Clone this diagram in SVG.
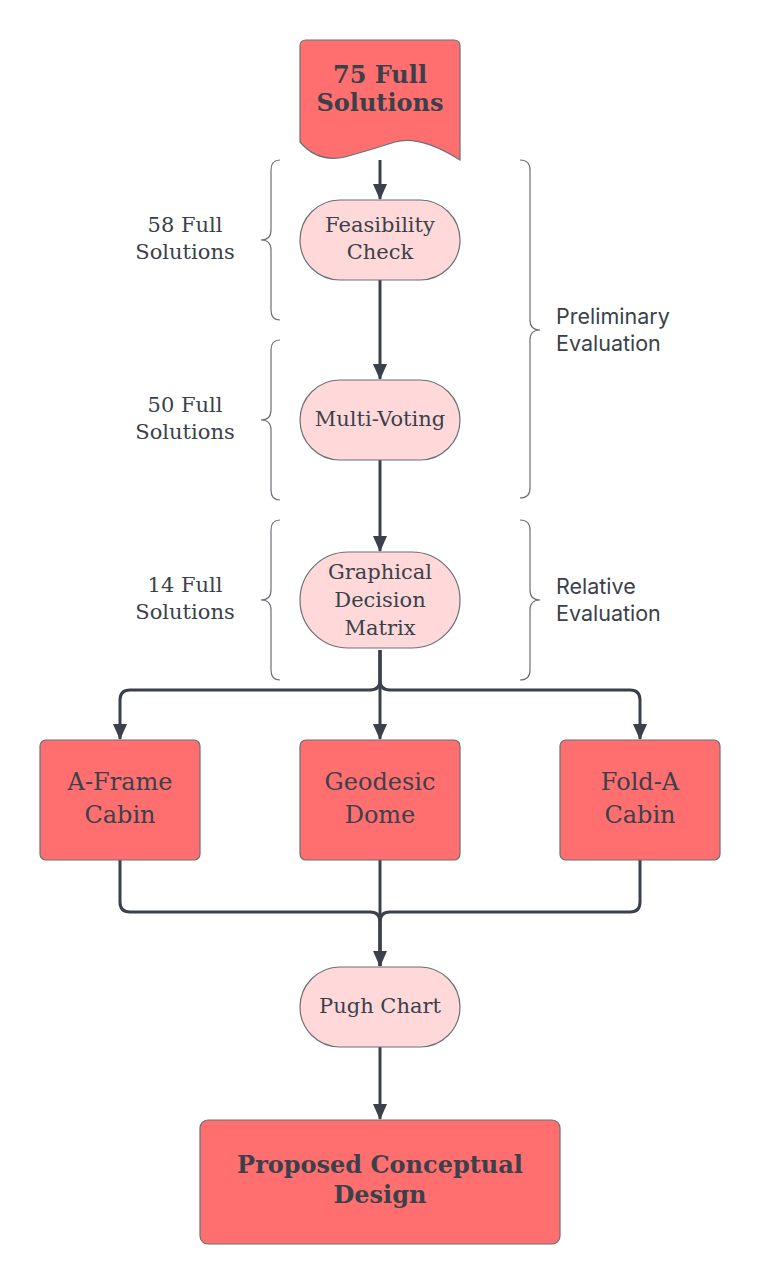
<svg xmlns="http://www.w3.org/2000/svg" width="760" height="1284" viewBox="0 0 760 1284">
<defs>
<style>
.red{fill:#ff6f6f;stroke:#6b6f76;stroke-width:1.2}
.pink{fill:#ffd9d9;stroke:#6b6f76;stroke-width:1.2}
.ser{font-family:"DejaVu Serif","Liberation Serif",serif;fill:#3a414a;text-anchor:middle}
.bold{font-weight:bold}
.sans{font-family:Inter,"Liberation Sans",sans-serif;fill:#3a414a;font-size:21.5px}
.con{fill:none;stroke:#3a414a;stroke-width:3}
.br{fill:none;stroke:#6b6f76;stroke-width:1.2}
</style>
<marker id="ad" markerUnits="userSpaceOnUse" markerWidth="16" markerHeight="14" refX="15" refY="7" orient="auto" viewBox="0 0 16 14">
<path d="M0 0 L16 7 L0 14 Z" fill="#3a414a"/>
</marker>
</defs>

<g id="connectors">
<path class="con" d="M380 160 V199" marker-end="url(#ad)"/>
<path class="con" d="M380 280 V379" marker-end="url(#ad)"/>
<path class="con" d="M380 460 V551" marker-end="url(#ad)"/>
<path class="con" d="M380 650 V739" marker-end="url(#ad)"/>
<path class="con" d="M380 650 V680 Q380 690 370 690 H130 Q120 690 120 700 V739" marker-end="url(#ad)"/>
<path class="con" d="M380 650 V680 Q380 690 390 690 H630 Q640 690 640 700 V739" marker-end="url(#ad)"/>
<path class="con" d="M380 860 V966" marker-end="url(#ad)"/>
<path class="con" d="M120 860 V902 Q120 912 130 912 H370 Q380 912 380 922 V966"/>
<path class="con" d="M640 860 V902 Q640 912 630 912 H390 Q380 912 380 922 V966"/>
<path class="con" d="M380 1047 V1119" marker-end="url(#ad)"/>
</g>

<g id="brackets">
<path class="br" d="M280 160 Q271 160 271 170 V230 Q271 240 261 240 Q271 240 271 250 V310 Q271 320 280 320"/>
<path class="br" d="M280 340 Q271 340 271 350 V410 Q271 420 261 420 Q271 420 271 430 V490 Q271 500 280 500"/>
<path class="br" d="M280 520 Q271 520 271 530 V590 Q271 600 261 600 Q271 600 271 610 V670 Q271 680 280 680"/>
<path class="br" d="M520 160 Q530 160 530 170 V320 Q530 330 540 330 Q530 330 530 340 V488 Q530 498 520 498"/>
<path class="br" d="M520 520 Q530 520 530 530 V590 Q530 600 540 600 Q530 600 530 610 V670 Q530 680 520 680"/>
</g>

<g id="labels">
<text class="ser" font-size="21" x="185" y="232">58 Full</text>
<text class="ser" font-size="21" x="185" y="259">Solutions</text>
<text class="ser" font-size="21" x="185" y="412">50 Full</text>
<text class="ser" font-size="21" x="185" y="439">Solutions</text>
<text class="ser" font-size="21" x="185" y="592">14 Full</text>
<text class="ser" font-size="21" x="185" y="619">Solutions</text>
<text class="sans" x="556" y="324">Preliminary</text>
<text class="sans" x="556" y="351">Evaluation</text>
<text class="sans" x="556" y="594">Relative</text>
<text class="sans" x="556" y="621">Evaluation</text>
</g>

<g id="n-start">
<path class="red" d="M306 40 H454 Q460 40 460 46 V160 Q420 135 395 142 Q370 150 345 157 Q318 163 300 142 V46 Q300 40 306 40 Z"/>
<text class="ser bold" font-size="24" x="380" y="83">75 Full</text>
<text class="ser bold" font-size="24" x="380" y="111">Solutions</text>
</g>

<g id="n-feasibility">
<rect class="pink" x="300" y="200" width="160" height="80" rx="40"/>
<text class="ser" font-size="21" x="380" y="232">Feasibility</text>
<text class="ser" font-size="21" x="380" y="259">Check</text>
</g>

<g id="n-multivoting">
<rect class="pink" x="300" y="380" width="160" height="80" rx="40"/>
<text class="ser" font-size="21" x="380" y="426">Multi-Voting</text>
</g>

<g id="n-gdm">
<rect class="pink" x="300" y="552" width="160" height="96" rx="48"/>
<text class="ser" font-size="21" x="380" y="579">Graphical</text>
<text class="ser" font-size="21" x="380" y="607">Decision</text>
<text class="ser" font-size="21" x="380" y="635">Matrix</text>
</g>

<g id="n-aframe">
<rect class="red" x="40" y="740" width="160" height="120" rx="6"/>
<text class="ser" font-size="24" x="120" y="790">A-Frame</text>
<text class="ser" font-size="24" x="120" y="823">Cabin</text>
</g>

<g id="n-geodesic">
<rect class="red" x="300" y="740" width="160" height="120" rx="6"/>
<text class="ser" font-size="24" x="380" y="790">Geodesic</text>
<text class="ser" font-size="24" x="380" y="823">Dome</text>
</g>

<g id="n-folda">
<rect class="red" x="560" y="740" width="160" height="120" rx="6"/>
<text class="ser" font-size="24" x="640" y="790">Fold-A</text>
<text class="ser" font-size="24" x="640" y="823">Cabin</text>
</g>

<g id="n-pugh">
<rect class="pink" x="300" y="967" width="160" height="80" rx="40"/>
<text class="ser" font-size="21" x="380" y="1013">Pugh Chart</text>
</g>

<g id="n-proposed">
<rect class="red" x="200" y="1120" width="360" height="124" rx="8"/>
<text class="ser bold" font-size="24" x="380" y="1173">Proposed Conceptual</text>
<text class="ser bold" font-size="24" x="380" y="1203">Design</text>
</g>
</svg>
